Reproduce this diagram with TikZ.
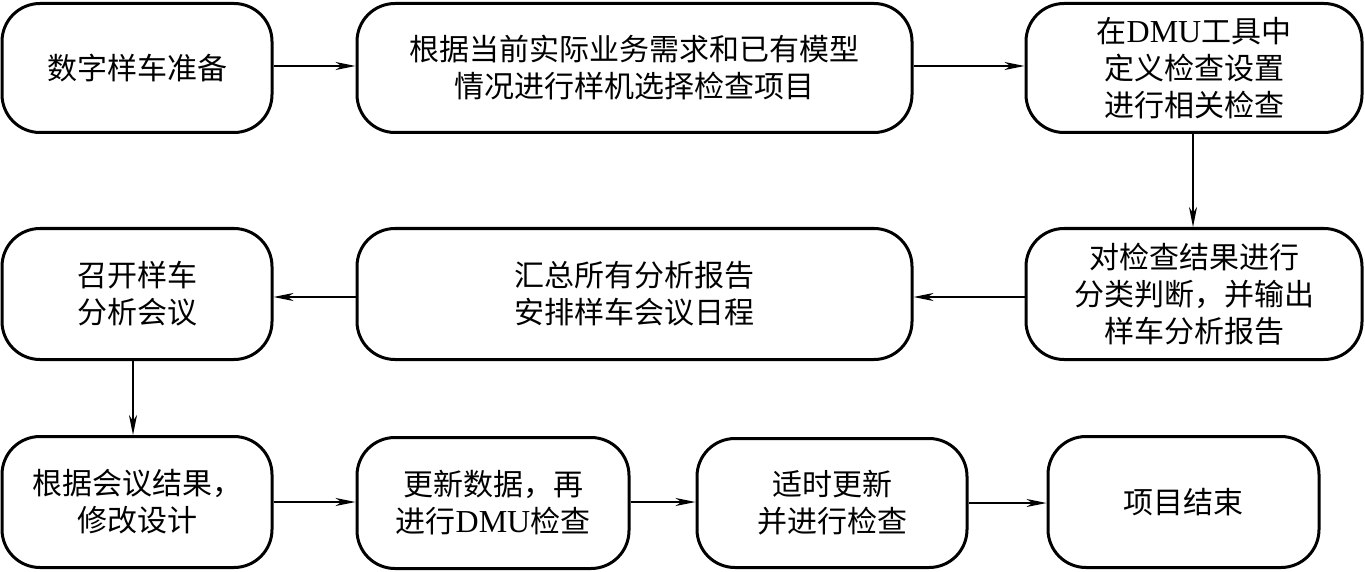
\documentclass[tikz,border=0pt]{standalone}
\usepackage{fontspec}
\setmainfont{Noto Sans CJK SC}
\newfontfamily\latinserif{Liberation Serif}
\usetikzlibrary{arrows.meta}
\begin{document}
\begin{tikzpicture}[x=1pt,y=-1pt,
  box/.style={draw, line width=3pt, rounded corners=38pt, align=center,
    inner sep=0pt, font=\fontsize{30}{37}\selectfont},
  wA/.style={minimum width=270pt, minimum height=129pt},
  conn/.style={line width=1.4pt, -{Stealth[length=20pt,width=8pt,inset=6pt]}}]
\useasboundingbox (0,0) rectangle (1365,572);
% row 1
\node[box, wA] (A) at (137,68) {数字样车准备};
\node[box, minimum width=555pt, minimum height=129pt] (B) at (634.5,68)
  {根据当前实际业务需求和已有模型\\情况进行样机选择检查项目};
\node[box, minimum width=336pt, minimum height=129pt] (C) at (1194,68)
  {在{\latinserif\fontsize{32}{37}\selectfont DMU}工具中\\定义检查设置\\进行相关检查};
% row 2
\node[box, wA, minimum height=131pt] (D) at (137,294) {召开样车\\分析会议};
\node[box, minimum width=555pt, minimum height=131pt] (E) at (634.5,294)
  {汇总所有分析报告\\安排样车会议日程};
\node[box, minimum width=336pt, minimum height=131pt] (F) at (1194,294)
  {对检查结果进行\\分类判断，并输出\\样车分析报告};
% row 3
\node[box, wA, minimum height=131pt] (G) at (137,502) {根据会议结果，\\修改设计};
\node[box, minimum width=272pt, minimum height=131pt] (H) at (493,503)
  {更新数据，再\\进行{\latinserif\fontsize{32}{37}\selectfont DMU}检查};
\node[box, minimum width=270pt, minimum height=129pt] (I) at (832,503)
  {适时更新\\并进行检查};
\node[box, minimum width=271pt, minimum height=131pt] (J) at (1183.5,502) {项目结束};
% connectors
\draw[conn] (A.east |- 0,66) -- (B.west |- 0,66);
\draw[conn] (B.east |- 0,66) -- (C.west |- 0,66);
\draw[conn] (C.south -| 1193,0) -- (F.north -| 1193,0);
\draw[conn] (F.west |- 0,297) -- (E.east |- 0,297);
\draw[conn] (E.west |- 0,297) -- (D.east |- 0,297);
\draw[conn] (D.south -| 133,0) -- (G.north -| 133,0);
\draw[conn] (G.east |- 0,502) -- (H.west |- 0,502);
\draw[conn] (H.east |- 0,502) -- (I.west |- 0,502);
\draw[conn] (I.east |- 0,503) -- (J.west |- 0,503);
\end{tikzpicture}
\end{document}
